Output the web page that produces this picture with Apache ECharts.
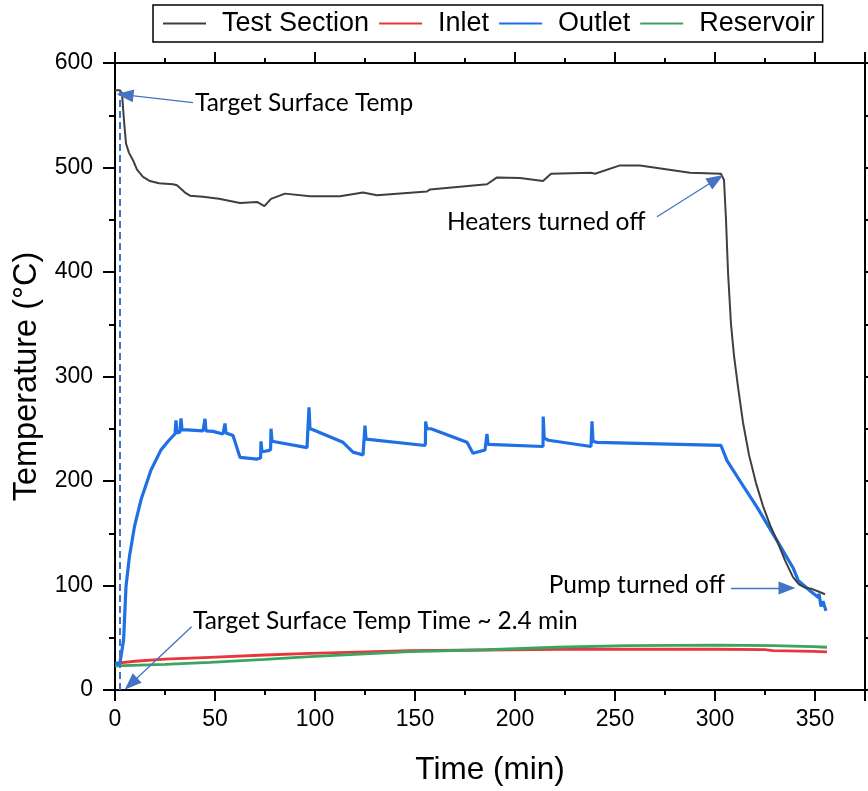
<!DOCTYPE html>
<html>
<head>
<meta charset="utf-8">
<script src="https://cdn.jsdelivr.net/npm/echarts@6/dist/echarts.min.js"></script>
<style>
html, body { margin: 0; padding: 0; background: #fff; }
#container { width: 868px; height: 791px; }
</style>
</head>
<body>
<div id="container"></div>
<script>
// series names
var seriesNames = ['Test Section', 'Inlet', 'Outlet', 'Reservoir'];
var seriesColors = ['#3f3f3f', '#e8363c', '#1f6fe5', '#3aa55f'];

// Test Section (time in min, temperature in °C)
var tsTime = [0, 2.5, 3.5, 4.5, 5.5, 7, 9, 11, 14, 17.5, 22, 29, 31, 35, 37.5, 44, 52, 62.5, 71, 74.7, 78, 85, 97.5, 112.5, 124, 131, 156, 157.5, 186, 191, 202.5, 214, 218, 238, 240, 252.5, 262.5, 287.5, 303, 304.5, 305.5, 306.5, 308, 309.5, 311.5, 314, 317, 320.5, 324, 327.5, 331, 335, 339, 342, 345, 348, 352, 355];
var tsTemp = [574, 574, 571, 545, 523, 514, 507, 498, 491, 487, 485, 484, 483, 476, 473, 472, 470, 466, 467, 463, 470, 475, 472.5, 472.5, 476, 473.5, 477, 479, 484, 490.5, 490, 487, 494, 495, 494, 502, 502, 495, 494, 488, 450, 400, 350, 320, 290, 256, 225, 198, 176, 158, 143, 124, 108, 101, 98, 97, 94, 91.6];

// Inlet
var inTime = [0, 10, 25, 47.5, 75, 97.5, 125, 147.5, 186, 221, 256, 301, 325, 329, 349, 356];
var inTemp = [25.5, 27.5, 29.5, 31.3, 33.5, 35.1, 36.5, 37.6, 38.3, 39, 39.2, 39, 38.6, 37.6, 37, 36.4];

// Outlet
var outTime = [0, 2.5, 4.3, 5.5, 7.2, 9.7, 13, 18, 23, 27, 30, 30.5, 31, 32.5, 33, 33.5, 36, 44, 45, 45.5, 49, 54, 55, 55.5, 59, 62.5, 71, 72.8, 73, 73.5, 74, 76.7, 77.8, 78, 78.5, 79, 96, 96.8, 97, 97.5, 99, 114, 119, 124, 124.8, 125, 125.5, 126, 155, 155.2, 155.3, 156, 158, 176, 179, 185, 185.8, 186, 186.5, 187.5, 214, 214.1, 214.6, 216.7, 238, 238.5, 239, 241, 303, 306, 312.5, 321, 331, 339, 341.7, 347.5, 351.7, 352, 353, 354, 355.5];
var outTemp = [25, 26, 48, 99, 127.6, 156, 182, 210.6, 229.8, 239, 245, 258, 246, 247, 260, 249, 249, 248, 259.5, 248, 247.5, 245, 255, 246, 243.5, 222.6, 221, 222, 238, 228, 227.6, 229, 230, 250, 238, 237, 232, 233, 270.6, 250, 249, 237, 227.6, 225, 226, 253, 240, 238.6, 234, 236, 257, 250, 250, 237, 226.6, 229.7, 230, 245, 235, 234, 233, 261.7, 241, 239, 233, 257, 238, 237, 234, 219.5, 200, 175, 143, 117, 104.5, 95, 88.5, 92, 80, 85, 75.7];

// Reservoir
var resTime = [0, 25, 47.5, 75, 97.5, 125, 147.5, 186, 221, 256, 301, 329, 349, 356];
var resTemp = [23, 24.5, 26.5, 29.3, 31.9, 34.5, 36.7, 38.5, 40.9, 42.4, 43, 42.4, 41.5, 40.9];

// annotations
var annoText = ['Target Surface Temp', 'Heaters turned off', 'Pump turned off', 'Target Surface Temp Time ~ 2.4 min'];
var annoAt = [[40, 562], [166, 448], [305, 100.5], [39, 66]];
var annoSide = ['right', 'right', 'left', 'right'];
var arrowFrom = [[39, 562], [271, 452.8], [308, 97.7], [38.3, 60.6]];
var arrowTo = [[5, 569.5], [300.5, 488.5], [336, 97.7], [8, 6]];
var markTime = 2.4;
var markTop = 573;

function pairs(xs, ys) {
	var out = [];
	for (var i = 0; i < xs.length; i++) out.push([xs[i], ys[i]]);
	return out;
}

var dom = document.getElementById('container');
var myChart = echarts.init(dom);

var arrowColor = '#4472c4';
var lineData = [];
for (var i = 0; i < arrowFrom.length; i++) {
	lineData.push([
		{ coord: arrowFrom[i], symbol: 'none' },
		{ coord: arrowTo[i], symbol: 'triangle', symbolSize: [13, 17] }
	]);
}
// dashed marker at the target time
lineData.push([
	{ coord: [markTime, 0], symbol: 'none', lineStyle: { type: [7, 4], width: 2 } },
	{ coord: [markTime, markTop], symbol: 'none' }
]);

var pointData = [];
for (var j = 0; j < annoText.length; j++) {
	pointData.push({
		name: annoText[j],
		coord: annoAt[j],
		label: { position: annoSide[j] }
	});
}

var axisBase = {
	type: 'value',
	min: 0,
	splitLine: { show: false },
	axisLine: { onZero: false, lineStyle: { color: '#000', width: 2 } },
	axisTick: { lineStyle: { color: '#000', width: 2 } }
};

function xAx(pos, interval, len, labels) {
	return echarts.util.merge({
		position: pos, max: 375, interval: interval,
		axisTick: { length: len },
		axisLabel: labels ? {
			show: true, fontSize: 23, color: '#000', margin: 18,
			fontFamily: 'Liberation Sans',
			formatter: function (v) { return v > 350 ? '' : v; }
		} : { show: false }
	}, axisBase, false);
}

var option = {
	animation: false,
	grid: { left: 115, right: 3, top: 63, bottom: 101, containLabel: false },
	legend: {
		data: seriesNames,
		left: 153, top: 5,
		padding: [5, 8, 5, 10],
		borderColor: '#000', borderWidth: 1.5,
		icon: 'rect', itemWidth: 43, itemHeight: 2, itemGap: 10,
		textStyle: { fontSize: 27, color: '#000', fontFamily: 'Liberation Sans', padding: [0, 0, 0, 11] }
	},
	xAxis: [
		echarts.util.merge({
			name: 'Time (min)', nameLocation: 'middle', nameGap: 64,
			nameTextStyle: { fontSize: 31.5, color: '#000', fontFamily: 'Liberation Sans' }
		}, xAx('bottom', 50, 11, true), false),
		xAx('bottom', 25, 5, false),
		xAx('top', 50, 11, false),
		xAx('top', 25, 5, false)
	],
	yAxis: [
		echarts.util.merge({
			position: 'left', max: 600, interval: 100,
			name: 'Temperature (°C)', nameLocation: 'middle', nameGap: 61,
			nameTextStyle: { fontSize: 32.5, color: '#000', fontFamily: 'Liberation Sans' },
			axisTick: { length: 12 },
			minorTick: { show: true, splitNumber: 2, length: 6, lineStyle: { color: '#000', width: 2 } },
			axisLabel: { fontSize: 23, color: '#000', margin: 22, fontFamily: 'Liberation Sans' }
		}, axisBase, false),
		echarts.util.merge({
			position: 'right', max: 600, interval: 100,
			axisTick: { length: 12 },
			minorTick: { show: true, splitNumber: 2, length: 6, lineStyle: { color: '#000', width: 2 } },
			axisLabel: { show: false }
		}, axisBase, false)
	],
	series: [
		{
			name: seriesNames[1], type: 'line', color: seriesColors[1],
			showSymbol: false, lineStyle: { width: 2.8 },
			data: pairs(inTime, inTemp)
		},
		{
			name: seriesNames[3], type: 'line', color: seriesColors[3],
			showSymbol: false, lineStyle: { width: 2.8 },
			data: pairs(resTime, resTemp)
		},
		{
			name: seriesNames[2], type: 'line', color: seriesColors[2],
			showSymbol: false, lineStyle: { width: 3.2 },
			data: pairs(outTime, outTemp)
		},
		{
			name: seriesNames[0], type: 'line', color: seriesColors[0],
			showSymbol: false, lineStyle: { width: 2 },
			data: pairs(tsTime, tsTemp),
			markLine: {
				silent: true, animation: false,
				lineStyle: { color: arrowColor, width: 1.3, type: 'solid' },
				itemStyle: { color: arrowColor },
				label: { show: false },
				data: lineData
			},
			markPoint: {
				silent: true, animation: false,
				symbol: 'circle', symbolSize: 0,
				label: {
					show: true, formatter: '{b}', distance: 0,
					color: '#000', fontSize: 24.5, fontFamily: 'Lato'
				},
				data: pointData
			}
		}
	]
};

myChart.setOption(option);
</script>
</body>
</html>
